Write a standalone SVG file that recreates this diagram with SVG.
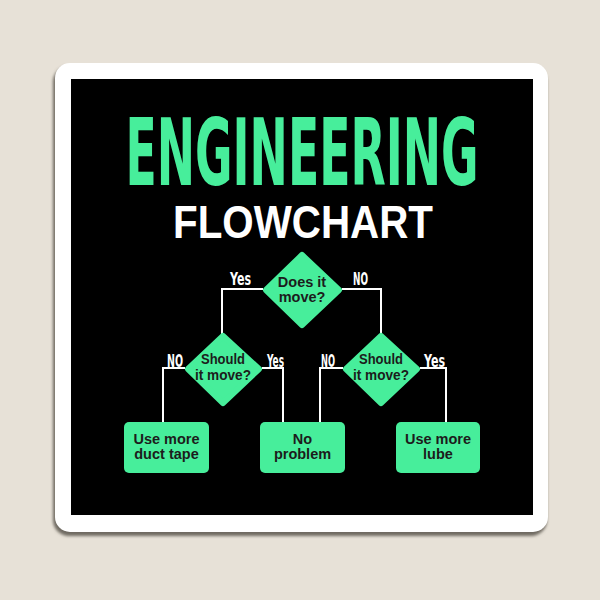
<svg xmlns="http://www.w3.org/2000/svg" width="600" height="600" viewBox="0 0 600 600">
<defs>
<style>
.title{font-family:"DejaVu Sans Condensed","Liberation Sans Narrow","Liberation Sans",sans-serif;font-weight:bold}
.sub{font-family:"Liberation Sans",Arial,sans-serif;font-weight:bold;fill:#ffffff}
.lbl{font-family:"DejaVu Sans Condensed","Liberation Sans",sans-serif;font-weight:bold;fill:#ffffff;font-size:18px}
.dec{fill:#47ee9b;stroke:#47ee9b;stroke-width:6;stroke-linejoin:round}
.box{fill:#47ee9b}
.t{font-family:"Liberation Sans",Arial,sans-serif;font-weight:bold;fill:#1c1c1c;font-size:14.5px;text-anchor:middle}
.con{fill:none;stroke:#ffffff;stroke-width:2}
</style>
<filter id="sh" x="-10%" y="-10%" width="120%" height="120%"><feGaussianBlur stdDeviation="1.5"/></filter>
</defs>
<rect width="600" height="600" fill="#e7e1d7"/>
<rect x="53" y="66" width="494" height="470" rx="16" fill="#6f6a62" filter="url(#sh)"/>
<rect x="55" y="63" width="493" height="469" rx="15" fill="#ffffff"/>
<rect x="71" y="79" width="462" height="436" fill="#000000"/>
<text class="title" x="302" y="185" font-size="92" fill="#47ee9b" text-anchor="middle" textLength="353" lengthAdjust="spacingAndGlyphs">ENGINEERING</text>
<text class="sub" x="303" y="238" font-size="47" text-anchor="middle" textLength="260" lengthAdjust="spacingAndGlyphs">FLOWCHART</text>
<g id="connectors">
<polyline class="con" points="263,289 222,289 222,334"/>
<polyline class="con" points="342,289 381,289 381,334"/>
<polyline class="con" points="185,368 163,368 163,422"/>
<polyline class="con" points="262,368 283,368 283,422"/>
<polyline class="con" points="343,368 320,368 320,422"/>
<polyline class="con" points="420,368 446,368 446,422"/>
<text class="lbl" x="230" y="285" textLength="21" lengthAdjust="spacingAndGlyphs">Yes</text>
<text class="lbl" x="353" y="285" textLength="15" lengthAdjust="spacingAndGlyphs">NO</text>
<text class="lbl" x="167" y="367" textLength="16" lengthAdjust="spacingAndGlyphs">NO</text>
<text class="lbl" x="267" y="367" textLength="17" lengthAdjust="spacingAndGlyphs">Yes</text>
<text class="lbl" x="321" y="367" textLength="14" lengthAdjust="spacingAndGlyphs">NO</text>
<text class="lbl" x="424" y="367" textLength="21" lengthAdjust="spacingAndGlyphs">Yes</text>
</g>
<g id="q1">
<polygon class="dec" points="302,255 339,290 302,325 266,290"/>
<text class="t" x="302" y="287">Does it</text>
<text class="t" x="302" y="302">move?</text>
</g>
<g id="q2">
<polygon class="dec" points="223,336 259,369 223,403 188,369"/>
<text class="t" x="223" y="364" textLength="44" lengthAdjust="spacingAndGlyphs">Should</text>
<text class="t" x="223" y="380" textLength="56" lengthAdjust="spacingAndGlyphs">it move?</text>
</g>
<g id="q3">
<polygon class="dec" points="381,336 417,369 381,403 346,369"/>
<text class="t" x="381" y="364" textLength="44" lengthAdjust="spacingAndGlyphs">Should</text>
<text class="t" x="381" y="380" textLength="56" lengthAdjust="spacingAndGlyphs">it move?</text>
</g>
<g id="a1">
<rect class="box" x="124" y="422" width="85" height="51" rx="5"/>
<text class="t" x="166.5" y="444">Use more</text>
<text class="t" x="166.5" y="459">duct tape</text>
</g>
<g id="a2">
<rect class="box" x="260" y="422" width="85" height="51" rx="5"/>
<text class="t" x="302.5" y="444">No</text>
<text class="t" x="302.5" y="459">problem</text>
</g>
<g id="a3">
<rect class="box" x="396" y="422" width="84" height="51" rx="5"/>
<text class="t" x="438" y="444">Use more</text>
<text class="t" x="438" y="459">lube</text>
</g>
</svg>
